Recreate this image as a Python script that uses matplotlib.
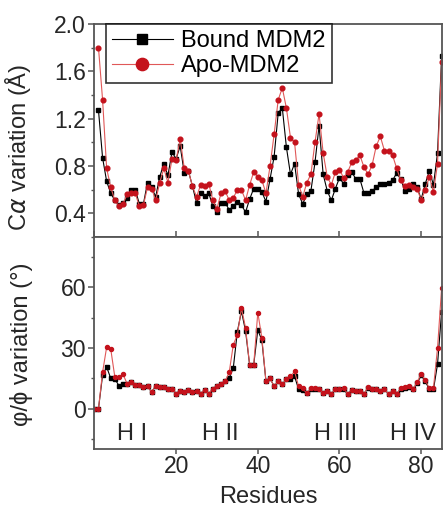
import matplotlib
matplotlib.use("Agg")
import matplotlib.pyplot as plt
from matplotlib.ticker import MultipleLocator

plt.rcParams['font.family'] = ['Liberation Sans', 'DejaVu Sans']
plt.rcParams['mathtext.fontset'] = 'dejavusans'

# C-alpha variation (top), residues 1..85
res_top = list(range(1, 86))
bound_ca = [1.27, 0.87, 0.67, 0.57, 0.51, 0.47, 0.49, 0.53, 0.60, 0.60,
            0.48, 0.48, 0.66, 0.62, 0.54, 0.71, 0.82, 0.72, 0.92, 0.86,
            0.97, 0.74, 0.76, 0.63, 0.49, 0.57, 0.55, 0.57, 0.46, 0.41,
            0.49, 0.49, 0.43, 0.46, 0.50, 0.47, 0.41, 0.52, 0.61, 0.61,
            0.58, 0.50, 0.69, 0.88, 1.25, 1.29, 0.96, 0.73, 0.82, 0.56,
            0.48, 0.56, 0.59, 0.83, 1.14, 0.73, 0.59, 0.51, 0.61, 0.70,
            0.65, 0.72, 0.75, 0.69, 0.69, 0.57, 0.57, 0.59, 0.62, 0.65,
            0.65, 0.66, 0.68, 0.74, 0.69, 0.59, 0.61, 0.65, 0.62, 0.52,
            0.65, 0.76, 0.64, 0.91, 1.73]
apo_ca = [1.80, 1.36, 0.78, 0.62, 0.51, 0.46, 0.48, 0.56, 0.57, 0.57,
          0.46, 0.47, 0.62, 0.61, 0.51, 0.66, 0.78, 0.66, 0.86, 0.85,
          1.03, 0.78, 0.76, 0.63, 0.54, 0.64, 0.63, 0.65, 0.51, 0.44,
          0.57, 0.59, 0.51, 0.53, 0.60, 0.60, 0.51, 0.64, 0.75, 0.71,
          0.68, 0.57, 0.80, 1.07, 1.36, 1.46, 1.29, 1.04, 1.00, 0.64,
          0.54, 0.66, 0.73, 1.00, 1.24, 0.91, 0.71, 0.64, 0.75, 0.77,
          0.70, 0.75, 0.83, 0.85, 0.89, 0.79, 0.73, 0.81, 0.97, 1.05,
          0.93, 0.93, 0.89, 0.78, 0.68, 0.63, 0.64, 0.62, 0.61, 0.51,
          0.60, 0.71, 0.58, 0.82, 1.68]

# phi/psi variation (bottom), residues 0..85
res_bot = list(range(0, 86))
apo_phi = [0, 0, 18, 30.5, 29.5, 15.7, 15.7, 17, 12.4, 13,
           11.9, 11.9, 10.6, 11.4, 8.1, 11.4, 10.6, 10.6, 9.8, 9.8,
           7.4, 8.9, 8.1, 9.4, 8.1, 8.9, 7.4, 9.4, 7.4, 9.8,
           11.2, 12.4, 13.5, 18, 31.6, 36.6, 49.8, 40, 21.7, 21.7,
           47.6, 35, 13.5, 15, 11, 13.5, 12, 14.5, 16, 18.4,
           11, 10, 7.5, 10.2, 10, 9.8, 7.5, 8.5, 7.3, 9.8,
           9.5, 10.2, 7.3, 9, 8.5, 8.5, 7.3, 10.7, 9.8, 9.5,
           8.5, 9.5, 7.3, 8.5, 7.3, 10.2, 10.7, 11.3, 9.8, 13,
           17.3, 14, 10.2, 10.2, 30, 59.7]
bound_phi = [0, 0, 16.5, 20.6, 15, 14.7, 11.4, 12.4, 12.4, 13,
             11.9, 11.9, 10.6, 11.4, 8.1, 11.4, 10.6, 10.6, 9.8, 9.8,
             7.4, 8.9, 8.1, 9.4, 8.1, 8.9, 7.4, 9.4, 7.4, 9.8,
             11.2, 12.4, 13.5, 15.2, 20.1, 38.2, 48.2, 38.5, 21.7, 21.7,
             39, 33.8, 13.5, 15, 11, 13.5, 12, 14.5, 14.6, 16,
             9.5, 9, 7.5, 9.5, 9.5, 9.5, 7.5, 8.5, 7.3, 9.5,
             9.5, 9.5, 7.3, 9, 8.5, 8.5, 7.3, 10.2, 9.5, 9.5,
             8.5, 9.5, 7.3, 8.5, 7.3, 9.8, 10.2, 10.7, 9.5, 12.5,
             16.5, 13.5, 9.5, 9.5, 22, 48]

helix_labels = ['H I', 'H II', 'H III', 'H IV']
helix_x = [9.2, 30.8, 59, 78]

red_mk = '#c4121c'
red_ln = '#e05858'
spine_c = '#555555'
txt_c = '#262626'
fs = 16.5

fig = plt.figure(figsize=(4.43, 5.07), dpi=100)
ax1 = fig.add_axes([0.2131, 0.5325, 0.7847, 0.4201])
ax2 = fig.add_axes([0.2131, 0.1144, 0.7847, 0.4181])

ax1.plot(res_top, bound_ca, color='black', lw=0.8, marker='s', ms=3.0,
         mec='black', label='Bound MDM2')
ax1.plot(res_top, apo_ca, color=red_ln, lw=0.8, marker='o', ms=3.4,
         mfc=red_mk, mec=red_mk, label='Apo-MDM2')

ax2.plot(res_bot, bound_phi, color='black', lw=0.8, marker='s', ms=2.5,
         mec='black')
ax2.plot(res_bot, apo_phi, color=red_ln, lw=0.8, marker='o', ms=2.9,
         mfc=red_mk, mec=red_mk)

for ax in (ax1, ax2):
    ax.set_xlim(0, 85.1)
    for s in ax.spines.values():
        s.set_color(spine_c)
        s.set_linewidth(1.3)
    ax.tick_params(labelsize=fs, colors=txt_c, width=1.1)
    ax.tick_params(which='major', length=4.0, pad=2)
    ax.tick_params(which='minor', length=2.5, width=1.0)
    ax.xaxis.set_major_locator(MultipleLocator(20))

ax1.set_ylim(0.2, 2.0)
ax1.yaxis.set_minor_locator(MultipleLocator(0.2))
ax1.set_yticks([0.4, 0.8, 1.2, 1.6, 2.0])
ax1.set_yticklabels(['0.4', '0.8', '1.2', '1.6', '2.0'])
ax1.tick_params(axis='y', which='both', direction='out', color=spine_c)
ax1.tick_params(axis='x', direction='in', labelbottom=False, color=spine_c)
ax1.set_ylabel(r'C$\alpha$ variation (Å)', fontsize=fs + 0.5, color=txt_c)
ax1.yaxis.set_label_coords(-0.177, 0.423)

leg = ax1.legend(loc='upper left', bbox_to_anchor=(0.033, 1.0), borderaxespad=0,
                 fontsize=fs + 0.5, frameon=True, fancybox=False, markerscale=2.6,
                 handlelength=2.6, handletextpad=0.35, labelspacing=0.15,
                 borderpad=0.25)
leg.get_frame().set_edgecolor('black')
leg.get_frame().set_linewidth(1.2)

ax2.set_ylim(-20, 85)
ax2.yaxis.set_major_locator(MultipleLocator(30))
ax2.yaxis.set_minor_locator(MultipleLocator(15))
ax2.tick_params(axis='both', which='both', direction='out', color=spine_c)
ax2.tick_params(axis='x', which='major', length=3.5, pad=0.5)
ax2.set_xticks([20, 40, 60, 80])
ax2.set_ylabel('φ/ϕ variation (°)', fontsize=fs + 0.5, color=txt_c)
ax2.yaxis.set_label_coords(-0.177, 0.495)
ax2.set_xlabel('Residues', fontsize=fs + 0.5, color=txt_c, labelpad=6)

for lab, hx in zip(helix_labels, helix_x):
    ax2.text(hx, -12.4, lab, fontsize=fs + 0.5, ha='center', va='center',
             color=txt_c)

fig.savefig('out.png', dpi=100)
